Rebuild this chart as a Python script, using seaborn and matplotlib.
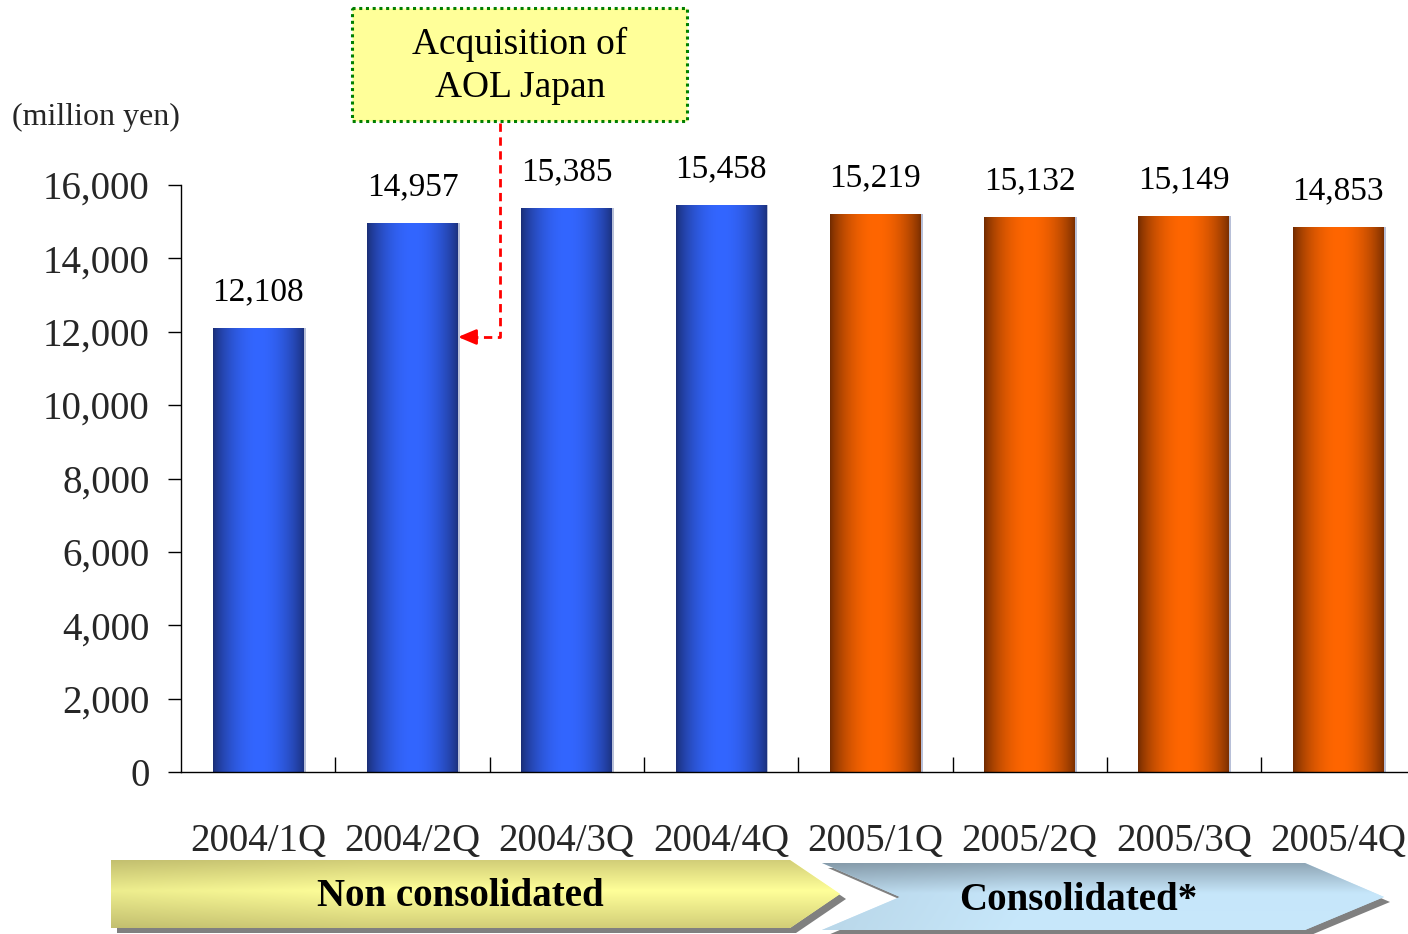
import numpy as np
import pandas as pd
import matplotlib
matplotlib.use("Agg")
import matplotlib.pyplot as plt
from matplotlib.patches import Polygon, Rectangle
from matplotlib.colors import to_rgb
import seaborn as sns

# ---- data -------------------------------------------------------------
quarters = ["2004/1Q", "2004/2Q", "2004/3Q", "2004/4Q",
            "2005/1Q", "2005/2Q", "2005/3Q", "2005/4Q"]
sales = [12108, 14957, 15385, 15458, 15219, 15132, 15149, 14853]
basis = ["Non consolidated"] * 4 + ["Consolidated"] * 4
y_ticks = [0, 2000, 4000, 6000, 8000, 10000, 12000, 14000, 16000]

df = pd.DataFrame({"quarter": quarters, "sales": sales, "basis": basis})

sns.set_theme(style="white")
plt.rcParams["font.family"] = ["Liberation Serif", "DejaVu Serif"]

W, H = 1408, 934
fig = plt.figure(figsize=(W / 100, H / 100), dpi=100)
fig.patch.set_facecolor("white")

# main axes in pixel terms: y-axis at x=181, baseline at y=772, 16,000 at y=185
ax = fig.add_axes([181 / W, (H - 772) / H, (W - 181) / W, (772 - 185) / H])
ax.set_facecolor("none")

palette = {"Non consolidated": "#3366ff", "Consolidated": "#ff6600"}
sns.barplot(data=df, x="quarter", y="sales", hue="basis", palette=palette,
            dodge=False, width=0.59, legend=False, ax=ax,
            edgecolor="none", linewidth=0, saturation=1)

# cylinder-like horizontal shading on each bar
shade = {"#3366ff": ("#1a2d74", "#3366ff"), "#ff6600": ("#6e2a00", "#ff6600")}
t = np.linspace(0, 1, 200)
profile = np.sin(np.pi * t) ** 0.75
bars = [p for p in ax.patches if p.get_height() > 0][:len(sales)]
for patch in bars:
    x0, w = patch.get_x(), patch.get_width()
    h = patch.get_height()
    fc = patch.get_facecolor()[:3]
    key = "#3366ff" if fc[2] > fc[0] else "#ff6600"
    dark, bright = (np.array(to_rgb(c)) for c in shade[key])
    img = dark[None, :] + (bright - dark)[None, :] * profile[:, None]
    img = img[None, :, :]
    im = ax.imshow(img, extent=[x0, x0 + w, 0, h], aspect="auto",
                   interpolation="bilinear", zorder=patch.get_zorder() + 0.1)
    im.set_clip_path(patch)
    # thin light rim on the right side
    ax.add_patch(Rectangle((x0 + w, 0), 0.012, h, facecolor="#b8c0d8",
                           edgecolor="none", zorder=patch.get_zorder() + 0.2))

# value labels
for patch, v in zip(bars, sales):
    cx = patch.get_x() + patch.get_width() / 2
    ax.annotate(f"{v:,}", xy=(cx, v), xytext=(0, 20), textcoords="offset points",
                ha="center", va="baseline", fontsize=24, color="black")

ax.set_xlim(-0.5, (W - 181) / 154.3 - 0.5)
ax.set_ylim(0, 16000)
ax.set_yticks(y_ticks)
ax.set_yticklabels([f"{v:,}" for v in y_ticks])
ax.set_xticks(range(len(quarters)))
ax.set_xticklabels(quarters)
ax.set_xticks([i + 0.5 for i in range(len(quarters) - 1)], minor=True)
ax.set_xlabel("")
ax.set_ylabel("")

ax.tick_params(axis="y", which="major", direction="out", length=9.5, width=1,
               color="black", pad=13, labelsize=28, left=True)
ax.tick_params(axis="x", which="major", length=0, pad=37, labelsize=28)
ax.tick_params(axis="x", which="minor", direction="in", length=10.5, width=1,
               color="black", bottom=True)
for side in ("top", "right"):
    ax.spines[side].set_visible(False)
for side in ("left", "bottom"):
    ax.spines[side].set_color("black")
    ax.spines[side].set_linewidth(1)
ax.grid(False)

# acquisition marker: dashed red leader from the callout to the 2004/2Q bar
bar2 = bars[1]
tip_x = bar2.get_x() + bar2.get_width()
lead_x = (500 - 181) / 154.3 - 0.5
lead_y = (772 - 337) / 73.375 * 2000
top_y = (772 - 123) / 73.375 * 2000
ax.plot([lead_x, lead_x, tip_x + 0.08], [top_y, lead_y, lead_y], color="red",
        lw=2.0, ls=(0, (3, 2)), clip_on=False, zorder=5)
ax.annotate("", xy=(tip_x, lead_y), xytext=(tip_x + 0.11, lead_y),
            arrowprops=dict(arrowstyle="-|>,head_length=0.9,head_width=0.38",
                            color="red", lw=2.0, shrinkA=0, shrinkB=0),
            annotation_clip=False, zorder=6)

# overlay in pixel coordinates for the callout and the banner arrows
ov = fig.add_axes([0, 0, 1, 1])
ov.set_xlim(0, W)
ov.set_ylim(H, 0)
ov.axis("off")
ov.set_facecolor("none")

ov.add_patch(Rectangle((352, 8), 335, 113, facecolor="#ffff99",
                       edgecolor="#008000", lw=2.2, ls=(0, (1, 1.2))))
ov.text(520, 66, "Acquisition of\nAOL Japan", ha="center", va="center",
        fontsize=27, linespacing=1.3, color="black")

ov.text(96, 117, "(million yen)", ha="center", va="center", fontsize=23)


def banner(points, top_col, mid_col, bot_col, label, label_xy):
    pts = np.array(points, dtype=float)
    shadow = Polygon(pts + np.array([6, 5]), closed=True, facecolor="#808080",
                     edgecolor="none", zorder=1)
    ov.add_patch(shadow)
    shape = Polygon(pts, closed=True, facecolor=mid_col, edgecolor="none",
                    zorder=2)
    ov.add_patch(shape)
    y0, y1 = pts[:, 1].min(), pts[:, 1].max()
    x0, x1 = pts[:, 0].min(), pts[:, 0].max()
    s = np.linspace(0, 1, 100)
    top, mid, bot = (np.array(to_rgb(c)) for c in (top_col, mid_col, bot_col))
    col = np.where(s[:, None] < 0.45,
                   top + (mid - top) * (s[:, None] / 0.45),
                   mid + (bot - mid) * ((s[:, None] - 0.45) / 0.55))
    # slight darkening toward the left end
    hx = np.linspace(0, 1, 60)
    lfac = 0.93 + 0.07 * np.clip(hx / 0.35, 0, 1)
    img = col[:, None, :] * lfac[None, :, None]
    im = ov.imshow(img, extent=[x0, x1, y1, y0], aspect="auto",
                   interpolation="bilinear", origin="upper", zorder=3)
    im.set_clip_path(shape)
    ov.text(label_xy[0], label_xy[1], label, ha="center", va="center",
            fontsize=28, fontweight="bold", color="black", zorder=4)


banner([(111, 860), (790, 860), (840, 894), (790, 928), (111, 928)],
       "#d2ce78", "#ffff99", "#d2ce78", "Non consolidated", (460, 896))
banner([(822, 863), (1305, 863), (1384, 897), (1305, 930), (822, 930), (900, 897)],
       "#8fa6b6", "#c6e6fa", "#c8e8fb", "Consolidated*", (1078, 901))

ov.set_xlim(0, W)
ov.set_ylim(H, 0)

fig.savefig("out.png", dpi=100, facecolor="white")
